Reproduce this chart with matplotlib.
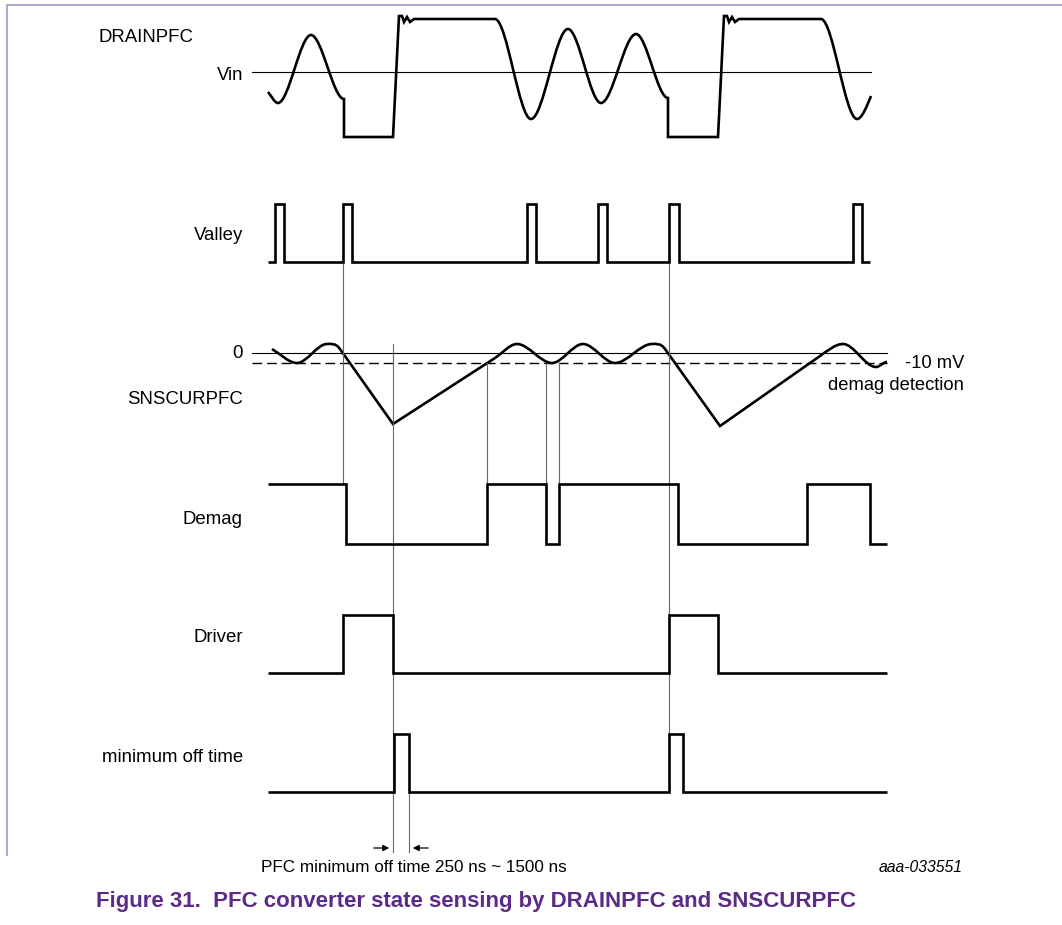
import numpy as np
import matplotlib
matplotlib.use("Agg")
import matplotlib.pyplot as plt
from matplotlib.path import Path
from matplotlib.patches import PathPatch

plt.rcParams['font.family'] = ['Liberation Sans', 'DejaVu Sans']

# ---- DRAINPFC knots (x, y, slope) and segment kinds, C = smooth, L = straight
drain_x = [268, 278, 311, 344, 344, 393, 399, 402, 404, 407, 410, 414, 495, 531, 568, 601, 636, 668,
           668, 718, 724, 727, 729, 732, 735, 739, 821, 857, 871]
drain_y = [92, 103, 35, 99, 137, 137, 16, 16, 22, 17, 22, 19, 19, 119, 29, 103, 34, 98,
           137, 137, 16, 16, 22, 17, 22, 19, 19, 119, 96]
drain_m = [1.2, 0, 0, 0, None, None, None, None, None, None, None, None, 0, 0, 0, 0, 0, 0,
           None, None, None, None, None, None, None, None, 0, 0, -2.5]
drain_seg = "CCC" + "L" * 9 + "CCCCC" + "L" * 9 + "CC"

# ---- SNSCURPFC knots
sns_x = [272, 297, 327, 340, 393, 495, 517, 552, 583, 615, 652, 665, 720, 820, 843, 876, 887]
sns_y = [349, 363, 344, 349, 424, 358, 344, 363, 344, 363, 344, 349, 426, 356, 344, 367, 362]
sns_m = [0.6, 0, 0, 1.42, None, -0.65, 0, 0, 0, 0, 0, 1.4, None, -0.7, 0, 0, 0]
sns_seg = "CCCLLCCCCCCLLCCC"

# ---- logic signals: edge times and levels (1 = high)
valley_t = [268, 275, 284, 343, 352, 527, 536, 598, 607, 669, 679, 853, 862, 870]
valley_v = [0, 1, 0, 1, 0, 1, 0, 1, 0, 1, 0, 1, 0, 0]
demag_t = [268, 346, 487, 546, 559, 678, 807, 870, 887]
demag_v = [1, 0, 1, 0, 1, 0, 1, 0, 0]
driver_t = [268, 343, 393, 669, 718, 887]
driver_v = [0, 1, 0, 1, 0, 0]
minoff_t = [268, 394, 409, 669, 683, 887]
minoff_v = [0, 1, 0, 1, 0, 0]

# guide lines: x, y top, y bottom
guide_x = [343, 393, 409, 487, 546, 559, 669]
guide_y0 = [264, 344, 792, 363, 363, 363, 264]
guide_y1 = [484, 852, 852, 484, 484, 484, 734]

labels = ["Vin", "Valley", "0", "SNSCURPFC", "Demag", "Driver", "minimum off time"]
label_y = [75, 235, 354, 399, 520, 637, 758]


def trace_path(xs, ys, ms, segs):
    verts = [(xs[0], ys[0])]
    codes = [Path.MOVETO]
    for i, s in enumerate(segs):
        x0, y0, x1, y1 = xs[i], ys[i], xs[i + 1], ys[i + 1]
        if s == "C":
            d = (x1 - x0) / 3.0
            verts += [(x0 + d, y0 + d * ms[i]), (x1 - d, y1 - d * ms[i + 1]), (x1, y1)]
            codes += [Path.CURVE4] * 3
        else:
            verts.append((x1, y1))
            codes.append(Path.LINETO)
    return Path(verts, codes)


fig = plt.figure(figsize=(10.62, 9.25), dpi=100)
ax = fig.add_axes([0, 0, 1, 1])
ax.set_xlim(0, 1062)
ax.set_ylim(925, 0)
ax.axis("off")

LW = 1.9
wave = dict(color="black", lw=LW, solid_joinstyle="miter", solid_capstyle="butt")

# frame
ax.plot([7, 1062], [5, 5], color="#b9a6cf", lw=1.5)
ax.plot([7, 7], [5, 855], color="#b9a6cf", lw=1.5)

# reference lines
ax.plot([252, 871], [72, 72], color="black", lw=0.8)
ax.plot([252, 887], [353, 353], color="black", lw=0.8)
ax.plot([252, 887], [363, 363], color="black", lw=1.0, linestyle=(0, (7, 3.5)))

for gx, a, b in zip(guide_x, guide_y0, guide_y1):
    ax.plot([gx, gx], [a, b], color="#666666", lw=0.8)

ax.add_patch(PathPatch(trace_path(drain_x, drain_y, drain_m, drain_seg), fill=False,
                       lw=LW, joinstyle="miter", capstyle="butt"))
ax.add_patch(PathPatch(trace_path(sns_x, sns_y, sns_m, sns_seg), fill=False,
                       lw=LW, joinstyle="miter", capstyle="butt"))


def logic(t, v, low, high):
    y = [low - (low - high) * s for s in v]
    ax.plot(t, y, drawstyle="steps-post", **wave)


logic(valley_t, valley_v, 262, 204)
logic(demag_t, demag_v, 544, 484)
logic(driver_t, driver_v, 673, 615)
logic(minoff_t, minoff_v, 792, 734)

# texts
fs = 13.4
ax.text(98, 38, "DRAINPFC", fontsize=fs, ha="left", va="center")
for s, yy in zip(labels, label_y):
    ax.text(243, yy, s, fontsize=fs, ha="right", va="center")
ax.text(964, 364, "-10 mV", fontsize=13.2, ha="right", va="center")
ax.text(964, 385, "demag detection", fontsize=13.2, ha="right", va="center")

# min off time arrows
ax.annotate("", xy=(392, 848), xytext=(371, 848),
            arrowprops=dict(arrowstyle="-|>", color="black", lw=0.9, mutation_scale=9))
ax.annotate("", xy=(410, 848), xytext=(431, 848),
            arrowprops=dict(arrowstyle="-|>", color="black", lw=0.9, mutation_scale=9))

ax.text(414, 867, "PFC minimum off time 250 ns ~ 1500 ns", fontsize=12.3, ha="center", va="center")
ax.text(963, 867, "aaa-033551", fontsize=11.3, style="italic", ha="right", va="center")
ax.text(96, 902, "Figure 31.  PFC converter state sensing by DRAINPFC and SNSCURPFC",
        fontsize=16, fontweight="bold", color="#5b2b86", ha="left", va="center")

fig.savefig("out.png", dpi=100)
